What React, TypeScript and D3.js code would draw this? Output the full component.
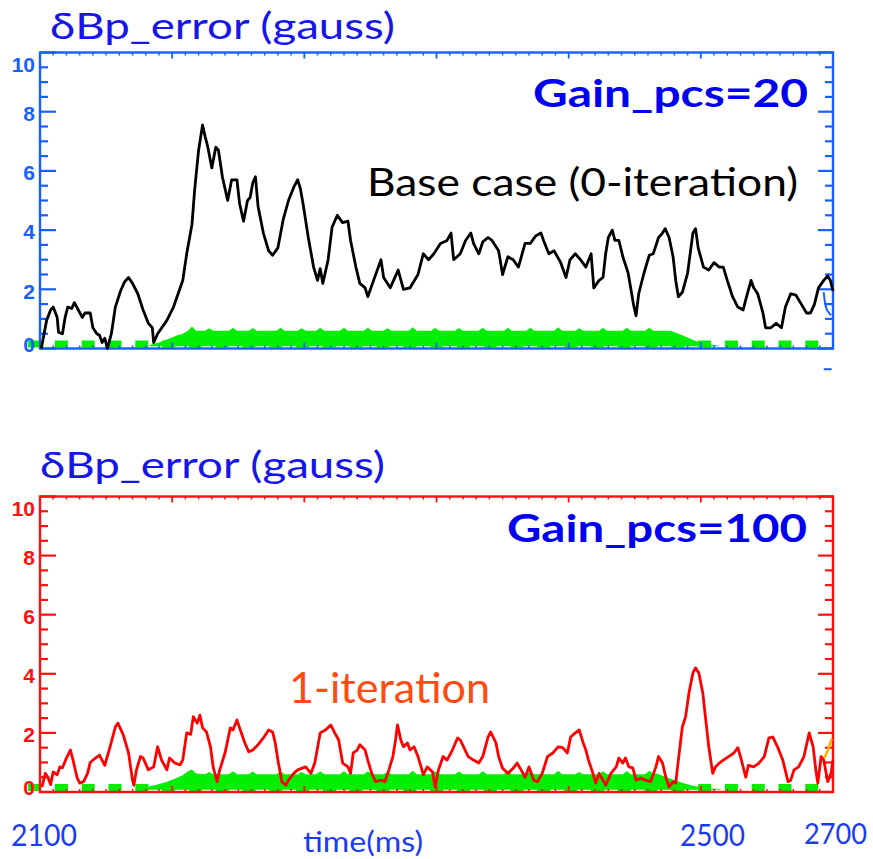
import React from 'react';
import * as d3 from 'd3';

// ---------- data ----------
const timeDomain: [number, number] = [2100, 2700];
const yDomain: [number, number] = [0, 10];
const yMajorTicks = [0, 2, 4, 6, 8, 10];
const yTickLabels = ['0', '2', '4', '6', '8', '10'];
const timeLabels = ['2100', '2500', '2700'];

// Base case (0-iteration), Gain_pcs=20  [time ms, gauss]
const baseCase: [number, number][] = [
  [2101,0],[2105,0.95],[2108,1.3],[2110,1.4],[2113,1.05],[2114,0.55],[2117,0.5],[2119,1.05],[2121,1.4],[2124,1.35],[2126,1.55],[2129,1.3],[2132,1.05],[2134,1.2],[2138,1.2],[2140,0.7],[2143,0.5],[2145,0.45],[2147,0.2],[2149,0.35],[2151,0],[2154,0.5],[2157,1.4],[2161,1.95],[2164,2.25],[2167,2.4],[2170,2.2],[2174,1.85],[2178,1.3],[2182,0.85],[2185,0.7],[2186,0.2],[2189,0.5],[2196,0.95],[2201,1.4],[2208,2.3],[2211,3.2],[2215,4.2],[2217,5.35],[2220,6.7],[2223,7.55],[2225,7.15],[2227,6.8],[2230,6.1],[2233,6.8],[2235,6.7],[2238,5.8],[2242,5.0],[2245,5.7],[2249,5.7],[2251,4.9],[2254,4.3],[2257,5.0],[2259,5.1],[2261,5.6],[2263,5.8],[2265,4.8],[2269,3.9],[2273,3.3],[2276,3.15],[2280,3.4],[2284,4.35],[2288,5.0],[2292,5.45],[2295,5.7],[2297,5.4],[2299,4.9],[2303,3.75],[2307,2.75],[2310,2.3],[2312,2.7],[2314,2.2],[2318,3.0],[2321,4.1],[2325,4.5],[2329,4.25],[2333,4.3],[2335,3.65],[2339,2.75],[2342,2.2],[2346,2.05],[2348,1.75],[2352,2.25],[2358,3.0],[2360,2.4],[2365,2.05],[2371,2.65],[2375,2.0],[2380,2.05],[2386,2.5],[2390,3.2],[2394,3.0],[2398,3.2],[2403,3.55],[2408,3.65],[2411,3.9],[2413,3.0],[2418,3.2],[2422,3.65],[2426,3.9],[2428,3.55],[2432,3.2],[2435,3.6],[2439,3.75],[2442,3.65],[2447,3.3],[2450,2.5],[2454,3.1],[2458,3.0],[2462,2.75],[2467,3.55],[2471,3.55],[2475,3.8],[2479,3.9],[2481,3.65],[2485,3.2],[2489,3.3],[2494,2.9],[2498,2.4],[2501,3.0],[2505,3.2],[2509,3.0],[2513,2.75],[2517,3.2],[2519,2.05],[2523,2.3],[2526,2.4],[2528,3.2],[2530,3.75],[2533,4.0],[2535,3.65],[2538,3.65],[2541,3.1],[2545,2.55],[2549,1.5],[2551,1.1],[2553,1.85],[2557,2.55],[2561,3.15],[2564,3.2],[2568,3.75],[2571,3.9],[2573,4.05],[2576,3.75],[2579,3.1],[2581,2.3],[2583,1.75],[2586,1.9],[2590,2.55],[2594,3.9],[2596,4.05],[2598,3.4],[2602,2.75],[2606,2.65],[2610,2.9],[2614,2.75],[2617,2.75],[2620,2.3],[2624,1.75],[2628,1.4],[2632,1.3],[2634,1.65],[2638,2.3],[2640,2.05],[2643,1.85],[2647,1.2],[2649,0.7],[2653,0.7],[2657,0.85],[2661,0.7],[2664,1.4],[2668,1.85],[2672,1.8],[2676,1.5],[2680,1.2],[2683,1.2],[2686,1.5],[2689,2.05],[2693,2.3],[2696,2.45],[2698,2.3],[2700,1.95]
];

// 1-iteration, Gain_pcs=100
const oneIteration: [number, number][] = [
  [2101.5,0.17],[2104,0.63],[2106,0.5],[2108,0.25],[2110,0.68],[2113,0.58],[2115,0.85],[2117,0.82],[2120,1.15],[2123,1.42],[2125,1.08],[2128,0.5],[2130,0.3],[2133,0.35],[2136,0.63],[2138,1.0],[2142,1.15],[2145,1.25],[2149,0.9],[2153,1.53],[2157,2.2],[2159,2.33],[2163,1.93],[2167,1.32],[2170,0.4],[2171,0.23],[2173,0.75],[2176,1.2],[2178,1.15],[2182,0.75],[2186,0.85],[2189,1.53],[2192,1.08],[2196,0.75],[2198,1.15],[2202,0.98],[2206,0.92],[2208,1.08],[2211,2.0],[2214,1.95],[2216,2.55],[2219,2.33],[2221,2.6],[2223,2.17],[2226,2.03],[2229,1.53],[2231,0.85],[2234,0.35],[2236,0.75],[2240,1.32],[2244,2.17],[2246,2.1],[2249,2.44],[2251,2.17],[2255,1.66],[2258,1.36],[2261,1.42],[2265,1.6],[2269,1.83],[2273,2.1],[2276,2.03],[2278,1.66],[2280,1.08],[2283,0.35],[2286,0.23],[2288,0.4],[2292,0.63],[2295,0.75],[2301,0.85],[2305,0.63],[2308,1.0],[2312,2.0],[2316,2.1],[2320,2.27],[2323,2.0],[2326,1.76],[2329,0.98],[2333,0.85],[2335,0.63],[2337,1.32],[2340,1.42],[2342,1.6],[2346,1.42],[2348,1.08],[2351,0.63],[2354,0.35],[2358,0.4],[2361,0.35],[2364,0.75],[2367,1.2],[2369,1.76],[2370.5,2.27],[2373,1.76],[2375,1.53],[2378,1.66],[2380,1.42],[2383,1.53],[2386,1.2],[2388,0.9],[2390,0.58],[2393,0.85],[2397,0.68],[2399,0.17],[2401.5,0.75],[2405,1.2],[2408,1.08],[2412,1.42],[2416,1.83],[2418,1.76],[2420.5,1.53],[2424,1.2],[2428,1.08],[2432,0.98],[2435,1.2],[2439,1.86],[2441,2.03],[2445,1.66],[2447,1.2],[2450,0.8],[2454,0.63],[2458,0.8],[2461,0.98],[2464,0.75],[2467,0.5],[2470,0.85],[2473.5,0.4],[2476.5,0.35],[2480,0.63],[2484,1.2],[2488,1.32],[2492,1.53],[2495.5,1.5],[2499,1.32],[2501.5,1.86],[2505,2.0],[2508,2.1],[2511,1.66],[2513,1.42],[2515,1.08],[2518,0.68],[2520.5,0.3],[2523,0.63],[2526,0.4],[2528,0.23],[2532,0.63],[2536,0.85],[2538,1.15],[2541,0.98],[2543,1.15],[2545.5,0.85],[2548.5,0.82],[2551,0.4],[2554.5,0.47],[2558,0.4],[2562,0.35],[2566,0.85],[2568,1.2],[2571,0.98],[2573.5,0.5],[2576,0.17],[2579,0.35],[2581,0.3],[2583,1.08],[2586,2.2],[2588.5,2.55],[2591,3.35],[2594,4.03],[2596,4.2],[2598.5,4.03],[2601.5,3.35],[2604,2.33],[2606,1.53],[2609,0.63],[2611,0.85],[2614,0.98],[2617,1.08],[2621,1.2],[2625,1.32],[2628,1.5],[2630,1.2],[2634,0.5],[2636,0.9],[2640,0.85],[2644,0.98],[2648,1.2],[2651.5,1.83],[2654.5,1.86],[2658,1.53],[2662,1.08],[2666,0.35],[2668,0.4],[2670.5,0.75],[2674,0.85],[2678,1.2],[2682,2.0],[2685,1.53],[2687,0.75],[2688.5,0.3],[2691,1.2],[2693,1.08],[2696,0.35],[2698.5,0.63],[2700,1.08]
];

// short coloured tails at the right edge
const blueTail: [number, number][] = [[2693,1.9],[2694,1.5],[2695.5,1.29],[2698.5,1.12]];
const orangeTail: [number, number][] = [[2693.5,1.15],[2696,1.4],[2699,1.8]];

// green reference band: ramps and shared plateau
const greenRampTopPanel: [number, number][] = [[2183,0.12],[2190,0.2],[2198,0.34],[2204,0.45],[2208,0.5],[2212,0.6],[2215,0.74],[2218,0.6]];
const greenRampBottomPanel: [number, number][] = [[2178,0.14],[2186,0.22],[2195,0.33],[2202,0.45],[2208,0.57],[2212,0.7],[2215,0.76],[2218,0.63]];
const greenPlateau: [number, number][] = [
  [2225,0.6],[2228,0.68],[2231,0.6],[2243,0.6],[2246,0.7],[2249,0.6],[2258,0.6],[2261,0.69],[2264,0.6],[2279,0.6],[2282,0.7],[2285,0.6],[2295,0.6],[2298,0.68],[2301,0.6],[2309,0.6],[2312,0.7],[2315,0.6],[2327,0.6],[2330,0.7],[2333,0.6],[2345,0.6],[2348,0.7],[2351,0.6],[2360,0.6],[2363,0.68],[2366,0.6],[2379,0.6],[2382,0.72],[2385,0.6],[2396,0.6],[2399,0.7],[2402,0.6],[2414,0.6],[2417,0.69],[2420,0.6],[2432,0.6],[2435,0.7],[2438,0.6],[2451,0.6],[2454,0.7],[2457,0.6],[2468,0.6],[2471,0.7],[2474,0.6],[2489,0.6],[2492,0.72],[2495,0.6],[2505,0.6],[2508,0.68],[2511,0.6],[2523,0.6],[2526,0.7],[2529,0.6],[2541,0.6],[2544,0.7],[2547,0.6],[2558,0.6]
];
const greenFallTopPanel: [number, number][] = [[2561,0.7],[2564,0.6],[2577,0.6],[2583,0.5],[2590,0.37],[2595,0.27],[2602,0.17],[2613,0.1]];
const greenFallBottomPanel: [number, number][] = [[2561,0.72],[2564,0.63],[2567,0.62],[2577,0.45],[2587,0.3],[2595,0.2],[2605,0.13],[2615,0.1]];
const greenBase = 0.08;
const greenDashLevel = 0.15;
const greenDashSpan: [number, number] = [2091, 2700];

// ---------- layout ----------
const W = 873, H = 859;
const X0 = 40, X1 = 833;
const x = d3.scaleLinear().domain(timeDomain).range([X0, X1]);

const topBlue = '#1560ff';
const red = '#ff1010';

type PanelProps = {
  yRange: [number, number];
  axisColor: string;
  series: [number, number][];
  seriesColor: string;
  green: [number, number][];
};

function Panel({ yRange, axisColor, series, seriesColor, green }: PanelProps) {
  const y = d3.scaleLinear().domain(yDomain).range(yRange);
  const top = yRange[1], bot = yRange[0];
  const line = d3.line<[number, number]>().x(d => x(d[0])).y(d => y(d[1]));
  const area = d3.area<[number, number]>().x(d => x(d[0])).y0(y(greenBase)).y1(d => y(d[1]));
  const minorY = d3.range(0, 10.001, 0.5).filter(v => Math.abs(v % 2) > 1e-6);
  const minorX = d3.range(timeDomain[0], timeDomain[1] + 0.1, 10).filter(t => t % 100 !== 0);
  const majorX = d3.range(timeDomain[0], timeDomain[1] + 0.1, 100);
  const dashLine = d3.line<number>().x(t => x(t)).y(() => y(greenDashLevel));
  return (
    <g>
      {/* green band */}
      <path d={area(green) || ''} fill="#00ee00" />
      <path d={dashLine(greenDashSpan) || ''} stroke="#00ee00" strokeWidth={7} strokeDasharray="13 13.8" fill="none" />
      {/* frame */}
      <rect x={X0} y={top} width={X1 - X0} height={bot - top} fill="none" stroke={axisColor} strokeWidth={2.4} />
      {/* y ticks left & right */}
      {yMajorTicks.map(v => (
        <g key={'M' + v}>
          <line x1={X0} x2={X0 + 16} y1={y(v)} y2={y(v)} stroke={axisColor} strokeWidth={2.2} />
          <line x1={X1} x2={X1 - 15} y1={y(v)} y2={y(v)} stroke={axisColor} strokeWidth={2.2} />
        </g>
      ))}
      {minorY.map(v => (
        <g key={'m' + v}>
          <line x1={X0} x2={X0 + 8} y1={y(v)} y2={y(v)} stroke={axisColor} strokeWidth={2.2} />
          <line x1={X1} x2={X1 - 8} y1={y(v)} y2={y(v)} stroke={axisColor} strokeWidth={2.2} />
        </g>
      ))}
      {/* x ticks top & bottom */}
      {majorX.map(t => (
        <g key={'X' + t}>
          <line x1={x(t)} x2={x(t)} y1={top} y2={top + 6} stroke={axisColor} strokeWidth={1.8} />
          <line x1={x(t)} x2={x(t)} y1={bot} y2={bot - 6} stroke={axisColor} strokeWidth={1.8} />
        </g>
      ))}
      {minorX.map(t => (
        <g key={'x' + t}>
          <line x1={x(t)} x2={x(t)} y1={top} y2={top + 3} stroke={axisColor} strokeWidth={1.5} />
          <line x1={x(t)} x2={x(t)} y1={bot} y2={bot - 3} stroke={axisColor} strokeWidth={1.5} />
        </g>
      ))}
      {/* y tick labels */}
      {yMajorTicks.map((v, i) => {
        const cy = Math.max(top + 12, Math.min(bot - 4, y(v) + 2));
        return (
          <text key={'L' + v} x={35} y={cy} dy="0.35em" textAnchor="end" fill={axisColor}
            fontFamily="'Liberation Sans', Arial, sans-serif" fontWeight="bold" fontSize={21}>
            {yTickLabels[i]}
          </text>
        );
      })}
      {/* data */}
      <path d={line(series) || ''} fill="none" stroke={seriesColor} strokeWidth={2.8} strokeLinejoin="round" />
    </g>
  );
}

export default function App() {
  const yTop = d3.scaleLinear().domain(yDomain).range([348.5, 52.5]);
  const yBot = d3.scaleLinear().domain(yDomain).range([792, 496.5]);
  const tailLineTop = d3.line<[number, number]>().x(d => x(d[0])).y(d => yTop(d[1]));
  const tailLineBot = d3.line<[number, number]>().x(d => x(d[0])).y(d => yBot(d[1]));
  const greenTop = [...greenRampTopPanel, ...greenPlateau, ...greenFallTopPanel];
  const greenBot = [...greenRampBottomPanel, ...greenPlateau, ...greenFallBottomPanel];
  const font = "Lato, 'Open Sans', sans-serif";
  return (
    <svg width={W} height={H} style={{ position: 'absolute', left: 0, top: 0, background: '#fff' }}>
      <rect width={W} height={H} fill="#fff" />
      <Panel yRange={[348.5, 52.5]} axisColor={topBlue} series={baseCase} seriesColor="#000" green={greenTop} />
      <path d={tailLineTop(blueTail) || ''} fill="none" stroke={topBlue} strokeWidth={2} />
      <line x1={x(2693)} x2={x(2699)} y1={yTop(-0.7)} y2={yTop(-0.7)} stroke={topBlue} strokeWidth={2} />
      <Panel yRange={[792, 496.5]} axisColor={red} series={oneIteration} seriesColor="#ff0000" green={greenBot} />
      <path d={tailLineBot(orangeTail) || ''} fill="none" stroke="#ffb000" strokeWidth={2.6} />

      {/* titles & annotations */}
      <text x={50} y={39} fontFamily={font} fontSize={37} fill="#1616e8" textLength={345} lengthAdjust="spacingAndGlyphs">δBp_error (gauss)</text>
      <text x={40} y={478} fontFamily={font} fontSize={37} fill="#1616e8" textLength={345} lengthAdjust="spacingAndGlyphs">δBp_error (gauss)</text>
      <text x={533} y={107} fontFamily={font} fontWeight="bold" fontSize={38} fill="#0000f0" textLength={275} lengthAdjust="spacingAndGlyphs">Gain_pcs=20</text>
      <text x={367} y={196} fontFamily={font} fontSize={39} fill="#000" textLength={431} lengthAdjust="spacingAndGlyphs">Base case (0-iteration)</text>
      <text x={507} y={542} fontFamily={font} fontWeight="bold" fontSize={38} fill="#0000f0" textLength={300} lengthAdjust="spacingAndGlyphs">Gain_pcs=100</text>
      <text x={289} y={703} fontFamily={font} fontSize={42} fill="#ff4a10" textLength={201} lengthAdjust="spacingAndGlyphs">1-iteration</text>

      {/* time labels */}
      <text x={11} y={846} fontFamily={font} fontSize={30} fill="#1a3cf0" textLength={66} lengthAdjust="spacingAndGlyphs">{timeLabels[0]}</text>
      <text x={303} y={852} fontFamily={font} fontSize={29} fill="#1a3cf0" textLength={120} lengthAdjust="spacingAndGlyphs">time(ms)</text>
      <text x={680} y={846} fontFamily={font} fontSize={30} fill="#1a3cf0" textLength={65} lengthAdjust="spacingAndGlyphs">{timeLabels[1]}</text>
      <text x={804} y={844} fontFamily={font} fontSize={28} fill="#1a3cf0" textLength={63} lengthAdjust="spacingAndGlyphs">{timeLabels[2]}</text>
    </svg>
  );
}
